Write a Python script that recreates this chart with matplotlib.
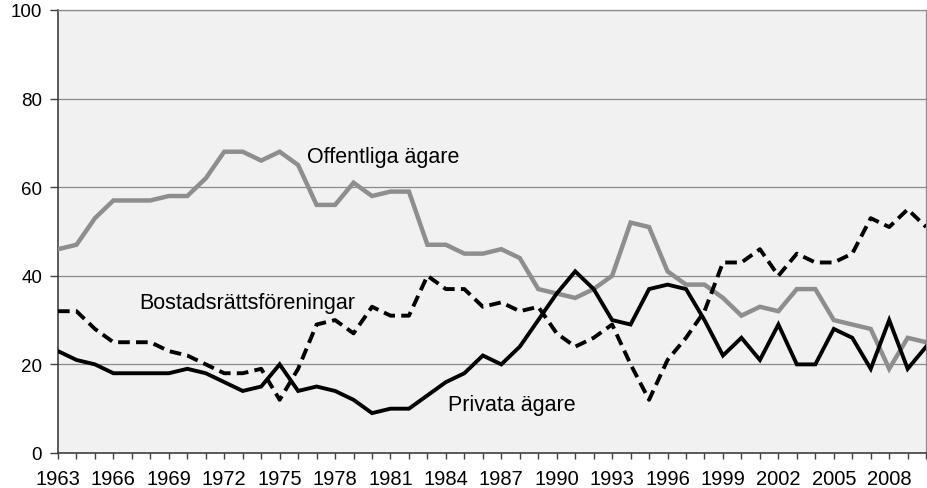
import numpy as np
import matplotlib.pyplot as plt

plt.rcParams['font.family'] = ['Liberation Sans', 'DejaVu Sans']

years = list(range(1963, 2011))

offentliga = [46, 47, 53, 57, 57, 57, 58, 58, 62, 68, 68, 66, 68, 65, 56, 56,
              61, 58, 59, 59, 47, 47, 45, 45, 46, 44, 37, 36, 35, 37, 40, 52,
              51, 41, 38, 38, 35, 31, 33, 32, 37, 37, 30, 29, 28, 19, 26, 25]

bostadsratt = [32, 32, 28, 25, 25, 25, 23, 22, 20, 18, 18, 19, 12, 19, 29, 30,
               27, 33, 31, 31, 40, 37, 37, 33, 34, 32, 33, 27, 24, 26, 29, 20,
               12, 21, 26, 32, 43, 43, 46, 40, 45, 43, 43, 45, 53, 51, 55, 51]

privata = [23, 21, 20, 18, 18, 18, 18, 19, 18, 16, 14, 15, 20, 14, 15, 14,
           12, 9, 10, 10, 13, 16, 18, 22, 20, 24, 30, 36, 41, 37, 30, 29,
           37, 38, 37, 30, 22, 26, 21, 29, 20, 20, 28, 26, 19, 30, 19, 24]

fig = plt.figure(figsize=(9.28, 4.89), dpi=100)
ax = fig.add_axes([0.0625, 0.0716, 0.9355, 0.906])
ax.set_facecolor('#f1f1f1')

ax.plot(years, offentliga, color='#8e8e8e', lw=3.2, solid_joinstyle='miter', zorder=3)
ax.plot(years, bostadsratt, color='black', lw=2.8, dashes=(3.0, 1.6), zorder=3)
ax.plot(years, privata, color='black', lw=2.8, solid_joinstyle='miter', zorder=4)

ax.text(1976.5, 67, 'Offentliga ägare', fontsize=15.5, va='center', ha='left')
ax.text(1967.4, 34, 'Bostadsrättsföreningar', fontsize=15.5, va='center', ha='left')
ax.text(1984.1, 11, 'Privata ägare', fontsize=15.5, va='center', ha='left')

ax.set_xlim(1963, 2010)
ax.set_ylim(0, 100)
ax.set_yticks([0, 20, 40, 60, 80, 100])
ax.set_xticks(range(1963, 2010, 3))
ax.set_xticks(range(1963, 2011), minor=True)
ax.tick_params(axis='both', which='both', direction='out', color='#404040')
ax.tick_params(axis='x', which='both', length=4.5, width=1)
ax.tick_params(axis='x', labelsize=14.5, pad=7)
ax.tick_params(axis='y', length=5.5, width=1, pad=6, labelsize=13.5)
ax.grid(axis='y', color='#8a8a8a', lw=0.9, zorder=1)
ax.set_axisbelow(True)

for s in ['left', 'bottom']:
    ax.spines[s].set_color('#404040')
    ax.spines[s].set_linewidth(1.2)
for s in ['top', 'right']:
    ax.spines[s].set_color('#8a8a8a')
    ax.spines[s].set_linewidth(0.9)

fig.savefig('out.png', dpi=100)
